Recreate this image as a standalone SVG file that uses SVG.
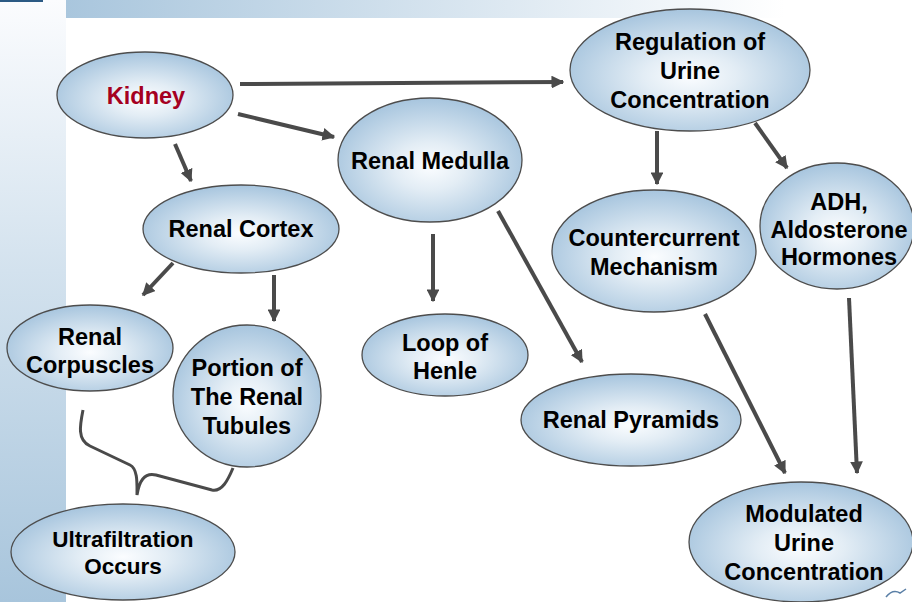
<svg xmlns="http://www.w3.org/2000/svg" width="912" height="602" viewBox="0 0 912 602">
<defs>
<linearGradient id="side" x1="0" y1="0" x2="0" y2="1">
<stop offset="0" stop-color="#fbfcfe"/>
<stop offset="0.45" stop-color="#d3e2ee"/>
<stop offset="1" stop-color="#a8c5dc"/>
</linearGradient>
<linearGradient id="band" x1="0" y1="0" x2="1" y2="0">
<stop offset="0" stop-color="#a9c6dd"/>
<stop offset="0.85" stop-color="#ffffff"/>
</linearGradient>
<radialGradient id="ell" cx="0.5" cy="0.55" r="0.55">
<stop offset="0" stop-color="#fbfdff"/>
<stop offset="0.35" stop-color="#e3edf5"/>
<stop offset="1" stop-color="#a7c5de"/>
</radialGradient>
<marker id="ah" viewBox="0 0 10 10" refX="9" refY="5" markerWidth="3.2" markerHeight="3.2" orient="auto" markerUnits="strokeWidth">
<path d="M0,0 L10,5 L0,10 z" fill="#4a4a4a"/>
</marker>
<style>
.n ellipse{fill:url(#ell);stroke:#4d4d4d;stroke-width:1.3}
.n text{font-family:"Liberation Sans",Arial,sans-serif;font-weight:bold;font-size:23.5px;fill:#000;text-anchor:middle}
.c line{stroke:#4a4a4a;stroke-width:4;marker-end:url(#ah)}
</style>
</defs>
<rect x="0" y="0" width="912" height="602" fill="#fff"/>
<rect x="0" y="0" width="66" height="602" fill="url(#side)"/>
<rect x="66" y="0" width="846" height="18" fill="url(#band)"/>
<rect x="0" y="0" width="43" height="2" fill="#2c5a84"/>
<g id="connectors" class="c">
<line x1="240" y1="84" x2="563" y2="82"/>
<line x1="238" y1="114" x2="334" y2="137"/>
<line x1="175" y1="144" x2="191" y2="181"/>
<line x1="173" y1="263" x2="143" y2="295"/>
<line x1="274" y1="275" x2="274" y2="321"/>
<line x1="433" y1="234" x2="433" y2="301"/>
<line x1="498" y1="211" x2="582" y2="362"/>
<line x1="657" y1="131" x2="657" y2="184"/>
<line x1="755" y1="123" x2="787" y2="168"/>
<line x1="705" y1="314" x2="785" y2="473"/>
<line x1="849" y1="298" x2="857" y2="473"/>
<path d="M83,410 C80,425 77,440 90,446 L130,465 C138,469 137,484 137,495 C139,482 144,472 156,475 L212,490 C222,492 228,480 233,468" fill="none" stroke="#4a4a4a" stroke-width="3"/>
</g>
<g id="kidney" class="n"><ellipse cx="145" cy="95" rx="88" ry="43"/><text x="146" y="104" style="fill:#a50021">Kidney</text></g>
<g id="regulation" class="n"><ellipse cx="690" cy="70" rx="120" ry="61"/><text x="690" y="50">Regulation of</text><text x="690" y="79">Urine</text><text x="690" y="108">Concentration</text></g>
<g id="medulla" class="n"><ellipse cx="430" cy="160" rx="92" ry="62"/><text x="430" y="169">Renal Medulla</text></g>
<g id="cortex" class="n"><ellipse cx="241" cy="229" rx="98" ry="44"/><text x="241" y="237">Renal Cortex</text></g>
<g id="corpuscles" class="n"><ellipse cx="90" cy="348" rx="83" ry="43"/><text x="90" y="345">Renal</text><text x="90" y="373">Corpuscles</text></g>
<g id="tubules" class="n"><ellipse cx="247" cy="396" rx="74" ry="71"/><text x="247" y="376">Portion of</text><text x="247" y="405">The Renal</text><text x="247" y="434">Tubules</text></g>
<g id="henle" class="n"><ellipse cx="445" cy="355" rx="83" ry="41"/><text x="445" y="351">Loop of</text><text x="445" y="379">Henle</text></g>
<g id="pyramids" class="n"><ellipse cx="631" cy="420" rx="110" ry="46"/><text x="631" y="428">Renal Pyramids</text></g>
<g id="countercurrent" class="n"><ellipse cx="654" cy="251" rx="102" ry="61"/><text x="654" y="246">Countercurrent</text><text x="654" y="275">Mechanism</text></g>
<g id="adh" class="n"><ellipse cx="837" cy="226" rx="77" ry="63"/><text x="839" y="210">ADH,</text><text x="839" y="238">Aldosterone</text><text x="839" y="265">Hormones</text></g>
<g id="modulated" class="n"><ellipse cx="801" cy="542" rx="112" ry="60"/><text x="804" y="522">Modulated</text><text x="804" y="551">Urine</text><text x="804" y="580">Concentration</text></g>
<g id="ultrafiltration" class="n"><ellipse cx="123" cy="552" rx="112" ry="48"/><text x="123" y="547" style="font-size:22.5px">Ultrafiltration</text><text x="123" y="574" style="font-size:22.5px">Occurs</text></g>
<path d="M886,597 C890,592 895,590 900,593 L906,589" fill="none" stroke="#5a7fa6" stroke-width="1.5"/>
</svg>
